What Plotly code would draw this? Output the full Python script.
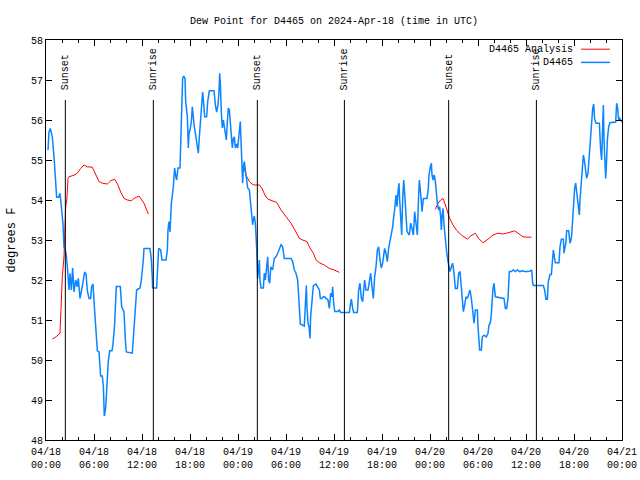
import pandas as pd
import plotly.graph_objects as go

START = pd.Timestamp("2024-04-18 00:00")

# D4465 observed dew point (hours since 04/18 00:00 UTC, degrees F)
obs_hours = [0.25, 0.375, 0.54, 0.67, 0.79, 1.0, 1.21, 1.33, 1.58, 1.75, 1.92, 2.125, 2.25, 2.5, 2.67, 2.87, 3.0, 3.17, 3.33, 3.5,
             3.71, 3.9, 4.04, 4.25, 4.46, 4.67, 4.83, 5.0, 5.17, 5.375, 5.58, 5.7, 5.875, 6.04, 6.2, 6.42, 6.625, 6.83, 7.04, 7.17,
             7.29, 7.46, 7.58, 7.79, 7.96, 8.25, 8.375, 8.58, 8.79, 9.29, 9.46, 9.75, 9.92, 10.04, 10.79, 10.96, 11.17, 11.33, 11.75, 11.92,
             12.17, 12.25, 13.0, 13.17, 13.29, 13.33, 13.83, 13.96, 14.08, 14.33, 14.5, 15.0, 15.17, 15.25, 15.375, 15.5, 15.67, 15.92, 16.08, 16.2,
             16.33, 16.5, 16.75, 16.83, 16.96, 17.08, 17.21, 17.375, 17.46, 17.67, 17.79, 17.875, 18.0, 18.17, 18.29, 18.42, 18.54, 18.67, 18.83, 19.04,
             19.17, 19.33, 19.46, 19.58, 19.71, 19.83, 20.08, 20.21, 20.42, 21.0, 21.17, 21.33, 21.5, 21.625, 21.71, 21.79, 21.92, 22.04, 22.17, 22.29,
             22.42, 22.54, 22.67, 22.79, 22.92, 23.04, 23.17, 23.29, 23.42, 23.54, 23.67, 23.83, 23.96, 24.08, 24.25, 24.29, 24.375, 24.5, 24.58, 24.67,
             24.79, 24.92, 25.21, 25.42, 25.54, 25.71, 25.83, 25.92, 26.04, 26.17, 26.25, 26.33, 26.46, 26.58, 26.67, 26.75, 26.875, 27.17, 27.29, 27.42,
             27.58, 27.71, 27.83, 27.96, 28.1, 28.33, 28.54, 28.75, 28.96, 29.17, 29.375, 29.58, 29.79, 30.625, 30.83, 31.04, 31.25, 31.46, 31.58, 31.67,
             31.79, 32.29, 32.42, 32.54, 32.625, 32.75, 32.875, 33.0, 33.08, 33.25, 33.42, 33.75, 33.96, 34.17, 34.29, 34.5, 34.67, 34.83, 35.0, 35.25,
             35.42, 35.58, 35.75, 35.83, 35.96, 36.1, 36.5, 36.67, 36.83, 37.92, 38.04, 38.17, 38.33, 38.46, 38.92, 39.08, 39.25, 39.42, 39.58, 39.71,
             39.83, 40.0, 40.25, 40.42, 40.58, 40.75, 40.92, 41.08, 41.25, 41.42, 41.58, 41.75, 41.92, 42.08, 42.25, 42.33, 42.5, 42.67, 42.83, 43.0,
             43.17, 43.33, 43.46, 43.58, 43.75, 43.875, 44.0, 44.125, 44.21, 44.33, 44.46, 44.58, 44.71, 44.83, 45.0, 45.125, 45.42, 45.58, 45.75, 45.92,
             46.08, 46.25, 46.42, 46.54, 46.67, 46.83, 47.0, 47.17, 47.625, 47.79, 47.875, 48.04, 48.17, 48.25, 48.375, 48.5, 48.58, 48.67, 48.79, 48.92,
             49.08, 49.21, 49.33, 49.42, 49.5, 49.625, 49.75, 49.92, 50.08, 50.25, 50.375, 50.5, 50.67, 50.83, 51.0, 51.17, 51.42, 51.58, 51.75, 51.92,
             52.04, 52.17, 52.33, 52.5, 52.67, 52.83, 53.0, 53.17, 53.33, 53.5, 53.67, 53.92, 54.0, 54.125, 54.21, 54.42, 54.54, 54.75, 55.04, 55.25,
             55.375, 55.54, 55.67, 55.875, 56.0, 56.17, 57.25, 57.42, 57.58, 57.75, 57.92, 58.17, 58.42, 58.67, 58.92, 59.21, 59.625, 59.83, 60.25, 60.58,
             60.71, 60.83, 60.92, 62.17, 62.33, 62.5, 62.67, 62.79, 63.0, 63.17, 63.29, 63.42, 63.54, 63.67, 64.125, 64.25, 64.42, 64.67, 64.75, 64.875,
             65.0, 65.08, 65.33, 65.5, 65.625, 65.71, 65.83, 65.96, 66.08, 66.21, 66.33, 66.42, 66.54, 66.67, 66.75, 66.875, 66.96, 67.08, 67.17, 67.29,
             67.42, 67.58, 67.75, 67.92, 68.08, 68.21, 68.33, 68.46, 68.58, 68.75, 69.17, 69.33, 69.46, 69.58, 69.67, 69.75, 69.875, 69.96, 70.04, 70.17,
             70.33, 70.5, 71.21, 71.33, 71.46, 71.58, 71.71, 71.83, 72.0]
obs_vals = [55.25, 55.7, 55.79, 55.7, 55.57, 55.08, 54.3, 54.07, 54.07, 54.17, 53.83, 53.4, 52.83, 52.68, 52.33, 51.75, 52.17, 51.75, 52.3, 51.7,
            52.0, 51.83, 52.04, 51.54, 51.75, 52.0, 52.2, 52.15, 51.73, 51.54, 51.54, 51.83, 51.9, 51.35, 50.73, 50.23, 50.2, 49.6, 49.6, 49.33,
            48.6, 48.8, 49.23, 49.98, 50.23, 50.23, 50.4, 50.9, 51.84, 51.84, 51.33, 51.2, 50.5, 50.2, 50.17, 50.65, 51.2, 51.75, 51.8, 52.0,
            52.52, 52.79, 52.79, 52.5, 52.04, 51.8, 51.8, 52.3, 52.79, 52.75, 52.5, 52.5, 52.75, 53.25, 53.46, 53.2, 53.92, 54.33, 54.8, 54.62,
            54.5, 54.8, 54.8, 55.33, 56.46, 57.04, 57.1, 57.04, 56.46, 56.08, 55.3, 55.67, 55.75, 55.96, 56.33, 56.0, 55.83, 55.67, 55.4, 55.17,
            55.58, 56.0, 56.5, 56.7, 56.42, 56.08, 56.08, 56.46, 56.73, 56.73, 56.38, 56.2, 56.38, 56.7, 57.17, 56.92, 56.17, 55.8, 56.0, 55.83,
            55.58, 55.5, 55.96, 56.3, 56.25, 55.96, 55.7, 55.3, 55.54, 55.58, 55.3, 55.4, 55.3, 55.58, 55.83, 55.96, 55.5, 54.79, 54.42, 54.83,
            54.96, 54.75, 54.3, 54.25, 53.92, 53.5, 53.38, 53.5, 53.6, 53.42, 53.17, 52.8, 52.04, 52.25, 52.5, 52.0, 51.8, 51.8, 52.17, 52.0,
            52.38, 52.58, 52.0, 51.92, 52.33, 52.25, 52.54, 52.58, 52.67, 52.79, 52.88, 52.83, 52.54, 52.54, 52.46, 52.25, 52.17, 52.0, 51.67, 51.17,
            50.9, 50.85, 51.33, 51.86, 51.33, 50.92, 50.83, 50.54, 51.08, 51.5, 51.86, 51.9, 51.83, 51.75, 51.54, 51.54, 51.58, 51.58, 51.54, 51.5,
            51.29, 51.67, 51.58, 51.83, 51.42, 51.21, 51.21, 51.25, 51.19, 51.19, 51.375, 51.52, 51.29, 51.19, 51.19, 51.75, 51.92, 51.54, 51.46, 51.67,
            52.0, 51.75, 51.75, 51.96, 52.17, 51.83, 51.54, 52.08, 52.33, 52.75, 52.83, 52.5, 52.3, 52.42, 52.62, 52.79, 52.67, 52.46, 52.79, 52.96,
            53.17, 53.33, 53.58, 53.75, 54.125, 53.83, 54.2, 54.42, 54.0, 53.46, 53.125, 54.0, 54.5, 54.17, 53.5, 53.21, 53.125, 53.42, 53.29, 53.125,
            53.71, 53.46, 53.125, 53.92, 54.5, 54.17, 53.71, 54.04, 54.04, 54.29, 54.625, 54.83, 54.92, 54.625, 54.5, 54.625, 54.58, 54.46, 54.17, 53.92,
            53.75, 53.83, 53.58, 53.25, 53.58, 53.79, 53.375, 52.96, 52.71, 52.46, 52.33, 52.21, 52.33, 52.42, 52.17, 51.79, 51.79, 52.17, 52.21, 51.75,
            51.5, 51.21, 51.375, 51.58, 51.54, 51.62, 51.75, 51.54, 51.125, 50.92, 51.25, 51.25, 50.83, 50.54, 50.25, 50.25, 50.58, 50.62, 50.58, 50.67,
            50.875, 50.92, 51.17, 51.79, 51.92, 51.58, 51.54, 51.29, 51.29, 51.54, 52.21, 52.21, 52.25, 52.21, 52.25, 52.21, 52.23, 52.21, 52.21, 52.23,
            52.25, 51.93, 51.86, 51.86, 51.75, 51.52, 51.52, 51.96, 52.14, 52.14, 52.54, 52.75, 52.58, 52.43, 52.43, 52.83, 53.02, 53.02, 52.67, 52.79,
            52.96, 53.23, 53.23, 52.92, 53.0, 53.125, 53.58, 53.96, 54.29, 54.42, 54.2, 54.0, 53.79, 53.625, 54.0, 54.33, 54.625, 55.0, 55.125, 55.0,
            54.8, 54.54, 54.67, 55.125, 55.625, 56.0, 56.27, 56.4, 56.02, 55.92, 55.92, 55.25, 55.0, 55.83, 56.375, 55.5, 54.83, 54.54, 54.83, 55.5,
            55.83, 55.93, 55.95, 56.42, 56.3, 56.0, 56.04, 56.0, 55.95]

# D4465 Analysis (three separate nightly runs)
ana1_hours = [0.79, 1.25, 1.75, 1.92, 2.04, 2.25, 2.33, 2.46, 2.6, 2.75, 2.875, 3.5, 3.92, 4.33, 4.75, 5.17, 5.79, 6.21, 6.625, 7.04,
              7.67, 8.08, 8.58, 9.0, 9.33, 9.75, 10.17, 10.67, 11.0, 11.625, 11.83, 12.25, 12.79]
ana1_vals = [50.52, 50.58, 50.67, 51.42, 52.08, 52.58, 53.33, 53.83, 54.0, 54.54, 54.58, 54.62, 54.67, 54.79, 54.875, 54.83, 54.82, 54.62, 54.46, 54.42,
             54.4, 54.48, 54.52, 54.375, 54.2, 54.04, 54.0, 53.98, 54.04, 54.1, 54.04, 53.92, 53.65]
ana2_hours = [24.75, 25.0, 25.42, 25.75, 26.04, 26.67, 27.0, 27.42, 27.75, 28.33, 28.83, 29.375, 30.0, 30.625, 31.25, 31.67, 32.08, 32.625, 33.0, 33.42,
              33.75, 34.25, 34.79, 35.42, 36.04, 36.67]
ana2_vals = [54.82, 54.62, 54.46, 54.4, 54.375, 54.375, 54.29, 54.1, 54.02, 53.98, 53.94, 53.75, 53.58, 53.42, 53.2, 53.04, 53.0, 52.96, 52.8, 52.67,
             52.5, 52.42, 52.375, 52.29, 52.25, 52.19]
ana3_hours = [48.67, 49.0, 49.33, 49.625, 49.92, 50.17, 50.46, 50.875, 51.29, 51.92, 52.67, 53.08, 53.67, 54.08, 54.625, 55.25, 55.875, 56.5, 57.125, 57.75,
              58.17, 58.58, 59.0, 59.625, 60.25, 60.67]
ana3_vals = [53.77, 53.92, 54.0, 54.04, 53.875, 53.71, 53.54, 53.375, 53.25, 53.125, 53.02, 53.1, 53.17, 53.04, 52.93, 53.02, 53.125, 53.17, 53.15, 53.18,
             53.2, 53.23, 53.17, 53.08, 53.07, 53.07]

sun_labels = ["Sunset", "Sunrise", "Sunset", "Sunrise", "Sunset", "Sunrise"]
sun_times = ["2024-04-18 02:25", "2024-04-18 13:25", "2024-04-19 02:25",
             "2024-04-19 13:18", "2024-04-20 02:20", "2024-04-20 13:18"]

tick_times = pd.date_range("2024-04-18 00:00", "2024-04-21 00:00", freq="6h")
tick_text = [t.strftime("%m/%d<br>%H:%M") for t in tick_times]

FONT = "Liberation Mono"
BLUE = "#0a84ff"
RED = "#ff0000"


def to_time(hours):
    return START + pd.to_timedelta(hours, unit="h")


ana_x = list(to_time(ana1_hours)) + [None] + list(to_time(ana2_hours)) + [None] + list(to_time(ana3_hours))
ana_y = ana1_vals + [None] + ana2_vals + [None] + ana3_vals

fig = go.Figure()
fig.add_trace(go.Scatter(x=ana_x, y=ana_y, mode="lines", name="D4465 Analysis",
                         line=dict(color=RED, width=1), connectgaps=False, showlegend=False))
fig.add_trace(go.Scatter(x=to_time(obs_hours), y=obs_vals, mode="lines", name="D4465",
                         line=dict(color=BLUE, width=1.5), showlegend=False))

for lab, t in zip(sun_labels, sun_times):
    fig.add_shape(type="line", xref="x", yref="paper", x0=t, x1=t, y0=0, y1=0.85,
                  line=dict(color="black", width=1))
    fig.add_annotation(x=t, y=0.87, xref="x", yref="paper", text=lab, textangle=-90,
                       showarrow=False, xanchor="center", yanchor="bottom",
                       font=dict(family=FONT, size=10, color="black"))

# legend (text on left, line sample on right, like the original)
for name, color, yy in [("D4465 Analysis", RED, 0.977), ("D4465", BLUE, 0.944)]:
    fig.add_annotation(x=0.918, y=yy, xref="paper", yref="paper", text=name, showarrow=False,
                       xanchor="right", yanchor="middle", font=dict(family=FONT, size=10, color="black"))
    fig.add_shape(type="line", xref="paper", yref="paper", x0=0.929, x1=0.979, y0=yy, y1=yy,
                  line=dict(color=color, width=1.5 if color == BLUE else 1))

fig.update_layout(
    width=640, height=480,
    margin=dict(l=46, r=18, t=40, b=40, autoexpand=False),
    paper_bgcolor="white", plot_bgcolor="white",
    font=dict(family=FONT, size=10, color="black"),
    title=dict(text="Dew Point for D4465 on 2024-Apr-18 (time in UTC)", xref="paper", x=0.5, xanchor="center",
               y=1 - 20 / 480, yanchor="middle", font=dict(family=FONT, size=10)),
)
fig.update_xaxes(
    type="date", range=[tick_times[0], tick_times[-1]],
    tickvals=tick_times, ticktext=tick_text, automargin=False,
    ticks="inside", ticklen=6, tickcolor="black", ticklabelstandoff=2,
    minor=dict(dtick=2 * 3600 * 1000, ticks="inside", ticklen=3, tickcolor="black", showgrid=False),
    showline=True, linecolor="black", linewidth=1, mirror="ticks",
    showgrid=False, zeroline=False,
)
fig.update_yaxes(
    range=[48, 58], dtick=1, tick0=48, automargin=False,
    ticks="inside", ticklen=6, tickcolor="black",
    showline=True, linecolor="black", linewidth=1, mirror="ticks",
    showgrid=False, zeroline=False,
    title=dict(text="degrees F", standoff=12),
)

fig.write_html("out.html", config={"displayModeBar": False},
               post_script="document.body.style.margin='0';document.body.style.padding='0';")
